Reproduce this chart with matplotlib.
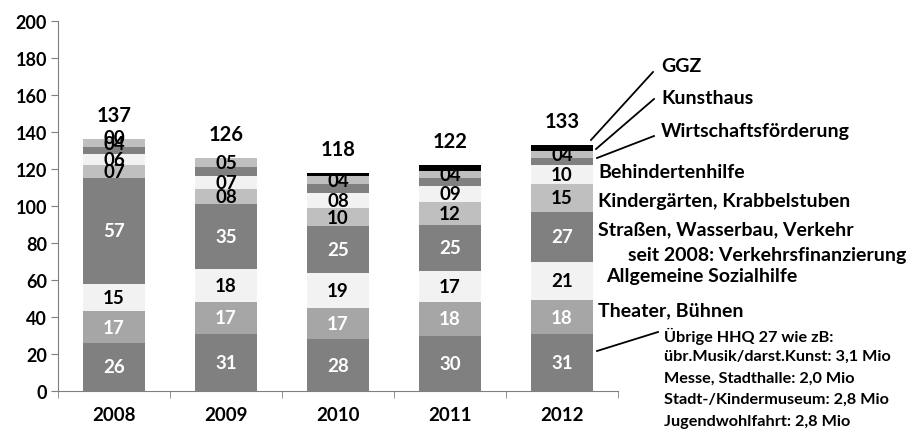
import matplotlib
matplotlib.use("Agg")
import matplotlib.pyplot as plt
import numpy as np

plt.rcParams['font.family'] = ['Lato', 'DejaVu Sans']

years = ['2008', '2009', '2010', '2011', '2012']
uebrige = [26, 31, 28, 30, 31]
theater = [17, 17, 17, 18, 18]
sozialhilfe = [15, 18, 19, 17, 21]
strassen = [57, 35, 25, 25, 27]
kindergaerten = [7, 8, 10, 12, 15]
behinderten = [6, 7, 8, 9, 10]
wirtschaft = [4, 5, 5, 4, 4]
kunsthaus = [4, 5, 4, 4, 4]
ggz = [0, 0, 2, 3, 3]
totals = [137, 126, 118, 122, 133]

series = [
    (uebrige, '#808080', 'white', True),
    (theater, '#a6a6a6', 'white', True),
    (sozialhilfe, '#f2f2f2', 'black', True),
    (strassen, '#808080', 'white', True),
    (kindergaerten, '#bfbfbf', 'black', True),
    (behinderten, '#f2f2f2', 'black', True),
    (wirtschaft, '#808080', 'black', False),
    (kunsthaus, '#bfbfbf', 'black', True),
    (ggz, '#000000', 'black', False),
]

W, H = 916, 435
fig = plt.figure(figsize=(W / 100, H / 100), dpi=100)
ax = fig.add_axes([58 / W, (H - 392) / H, 560 / W, 370 / H])

SEG_FS = 13.5
x = np.arange(len(years))
bottom = np.zeros(len(years))
for i, (vals, color, tcol, show) in enumerate(series):
    vals = np.array(vals, dtype=float)
    z = 4 if i == len(series) - 1 else 2
    ax.bar(x, vals, width=0.56, bottom=bottom, color=color, zorder=z)
    if show:
        for xi, v, b in zip(x, vals, bottom):
            ax.text(xi, b + v / 2, f'{int(v):02d}',
                    ha='center', va='center', color=tcol, fontsize=SEG_FS,
                    fontweight='bold', zorder=3)
    bottom += vals

# 2008 GGZ label "00" (zero-height segment)
ax.text(x[0], bottom[0] + 1, f'{int(ggz[0]):02d}', ha='center', va='center',
        fontsize=SEG_FS, fontweight='bold', zorder=3)

for xi, b, t in zip(x, bottom, totals):
    ax.text(xi, b + 13, str(t), ha='center', va='center', fontsize=14.5,
            fontweight='bold')

ax.set_xlim(-0.5, 4.5)
ax.set_ylim(0, 200)
ax.set_yticks(np.arange(0, 201, 20))
ax.set_xticks(x)
ax.set_xticklabels(years)
ax.set_xticks(np.arange(-0.5, 4.6, 1), minor=True)
ax.tick_params(axis='x', which='major', length=0, pad=11)
ax.tick_params(axis='x', which='minor', length=5, direction='out', color='#7f7f7f')
ax.tick_params(axis='y', length=5, direction='out', color='#7f7f7f', pad=3)
for lab in ax.get_xticklabels():
    lab.set_fontweight('bold')
    lab.set_fontsize(13.5)
for lab in ax.get_yticklabels():
    lab.set_fontweight('bold')
    lab.set_fontsize(13)
for s in ['top', 'right']:
    ax.spines[s].set_visible(False)
for s in ['left', 'bottom']:
    ax.spines[s].set_color('#7f7f7f')

def fx(px):
    return px / W

def fy(py):
    return 1 - py / H

def ftext(px, py, s, fs=14):
    fig.text(fx(px), fy(py), s, ha='left', va='center', fontsize=fs,
             fontweight='bold')

# leader lines (from bar to label)
lines = [
    ((591, 141), (653, 73)),
    ((596, 150), (654, 100)),
    ((597, 159), (654, 137)),
    ((597, 352), (658, 333)),
]
for (x0, y0), (x1, y1) in lines:
    fig.add_artist(plt.Line2D([fx(x0), fx(x1)], [fy(y0), fy(y1)],
                              color='black', lw=1.3, transform=fig.transFigure))

ftext(661, 66, 'GGZ')
ftext(661, 99, 'Kunsthaus')
ftext(661, 131, 'Wirtschaftsförderung')
ftext(598, 172, 'Behindertenhilfe')
ftext(598, 201, 'Kindergärten, Krabbelstuben')
ftext(598, 230, 'Straßen, Wasserbau, Verkehr')
ftext(628, 256, 'seit 2008: Verkehrsfinanzierung')
ftext(606, 277, 'Allgemeine Sozialhilfe')
ftext(598, 311, 'Theater, Bühnen')
ftext(664, 336, 'Übrige HHQ 27 wie zB:', 11.7)
ftext(664, 357, 'übr.Musik/darst.Kunst: 3,1 Mio', 11.7)
ftext(664, 379, 'Messe, Stadthalle: 2,0 Mio', 11.7)
ftext(664, 400, 'Stadt-/Kindermuseum: 2,8 Mio', 11.7)
ftext(664, 422, 'Jugendwohlfahrt: 2,8 Mio', 11.7)

fig.savefig('out.png', dpi=100)
